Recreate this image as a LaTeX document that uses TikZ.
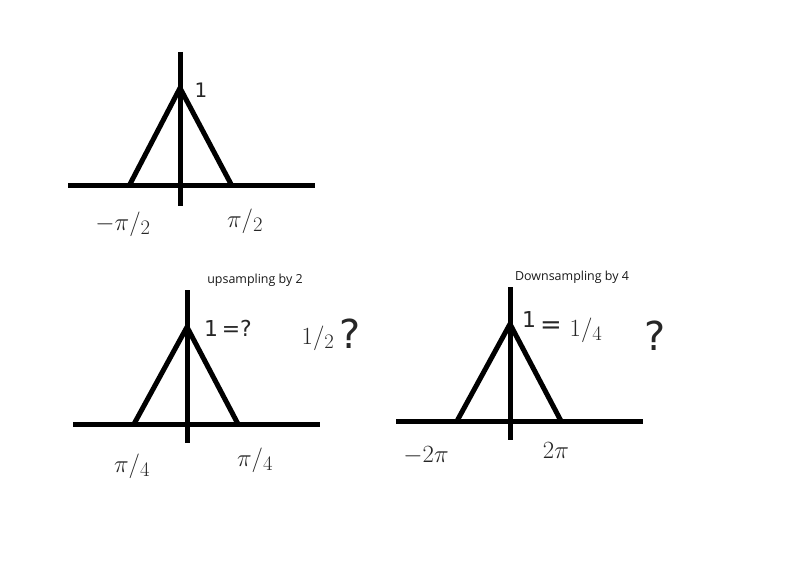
\documentclass[tikz,border=0pt]{standalone}
\usepackage{fontspec}
\setmainfont{Open Sans}
\newfontfamily\handfont{DejaVu Sans}
\begin{document}
\begin{tikzpicture}[x=1bp,y=-1bp,
  axisline/.style={line width=5bp,black},
  tri/.style={line width=5bp,black,line join=round},
  hand/.style={font=\handfont\fontsize{28}{30}\selectfont, inner sep=0pt, text=black!85},
  title/.style={font=\fontsize{12.5}{14}\selectfont, inner sep=0pt, text=black!90}]
\useasboundingbox (0,0) rectangle (800,569);
% graph 1
\coordinate (a1l) at (68,186); \coordinate (a1r) at (315,186);
\coordinate (v1t) at (180,52); \coordinate (v1b) at (180,206);
\coordinate (p1) at (180,88); \coordinate (b1l) at (129,186); \coordinate (b1r) at (232,186);
\draw[axisline] (a1l) -- (a1r);
\draw[axisline] (v1t) -- (v1b);
\draw[tri] (b1l) -- (p1) -- (b1r);
\node[hand,font=\handfont\fontsize{20}{22}\selectfont] (one1) at (201,90) {1};
\node[hand] (lab1l) at (123,224) {$-\pi/_{2}$};
\node[hand] (lab1r) at (245,221) {$\pi/_{2}$};
% graph 2
\coordinate (a2l) at (73,424); \coordinate (a2r) at (320,424);
\coordinate (v2t) at (187,290); \coordinate (v2b) at (187,443);
\coordinate (p2) at (187,327); \coordinate (b2l) at (134,424); \coordinate (b2r) at (238,424);
\draw[axisline] (a2l) -- (a2r);
\draw[axisline] (v2t) -- (v2b);
\draw[tri] (b2l) -- (p2) -- (b2r);
\node[title] (t2) at (255,280) {upsampling by 2};
\node[hand,font=\handfont\fontsize{22}{24}\selectfont] (one2) at (228,328) {1\,=?};
\node[hand,font=\handfont\fontsize{32}{34}\selectfont] (half2) at (318,338) {$1/_{2}$};
\node[hand,font=\handfont\fontsize{40}{42}\selectfont] (q2) at (350,334) {?};
\node[hand] (lab2l) at (132,466) {$\pi/_{4}$};
\node[hand] (lab2r) at (255,460) {$\pi/_{4}$};
% graph 3
\coordinate (a3l) at (396,421); \coordinate (a3r) at (643,421);
\coordinate (v3t) at (510,287); \coordinate (v3b) at (510,440);
\coordinate (p3) at (510,324); \coordinate (b3l) at (457,421); \coordinate (b3r) at (561,421);
\draw[axisline] (a3l) -- (a3r);
\draw[axisline] (v3t) -- (v3b);
\draw[tri] (b3l) -- (p3) -- (b3r);
\node[title] (t3) at (572,277) {Downsampling by 4};
\node[hand,font=\handfont\fontsize{22}{24}\selectfont] (one3) at (529,320) {1};
\node[hand,font=\handfont\fontsize{26}{28}\selectfont] (eq3) at (551,328) {=};
\node[hand,font=\handfont\fontsize{32}{34}\selectfont] (quart3) at (586,330) {$1/_{4}$};
\node[hand,font=\handfont\fontsize{40}{42}\selectfont] (q3) at (655,336) {?};
\node[hand] (lab3l) at (426,456) {$-2\pi$};
\node[hand] (lab3r) at (556,451) {$2\pi$};
\end{tikzpicture}
\end{document}
